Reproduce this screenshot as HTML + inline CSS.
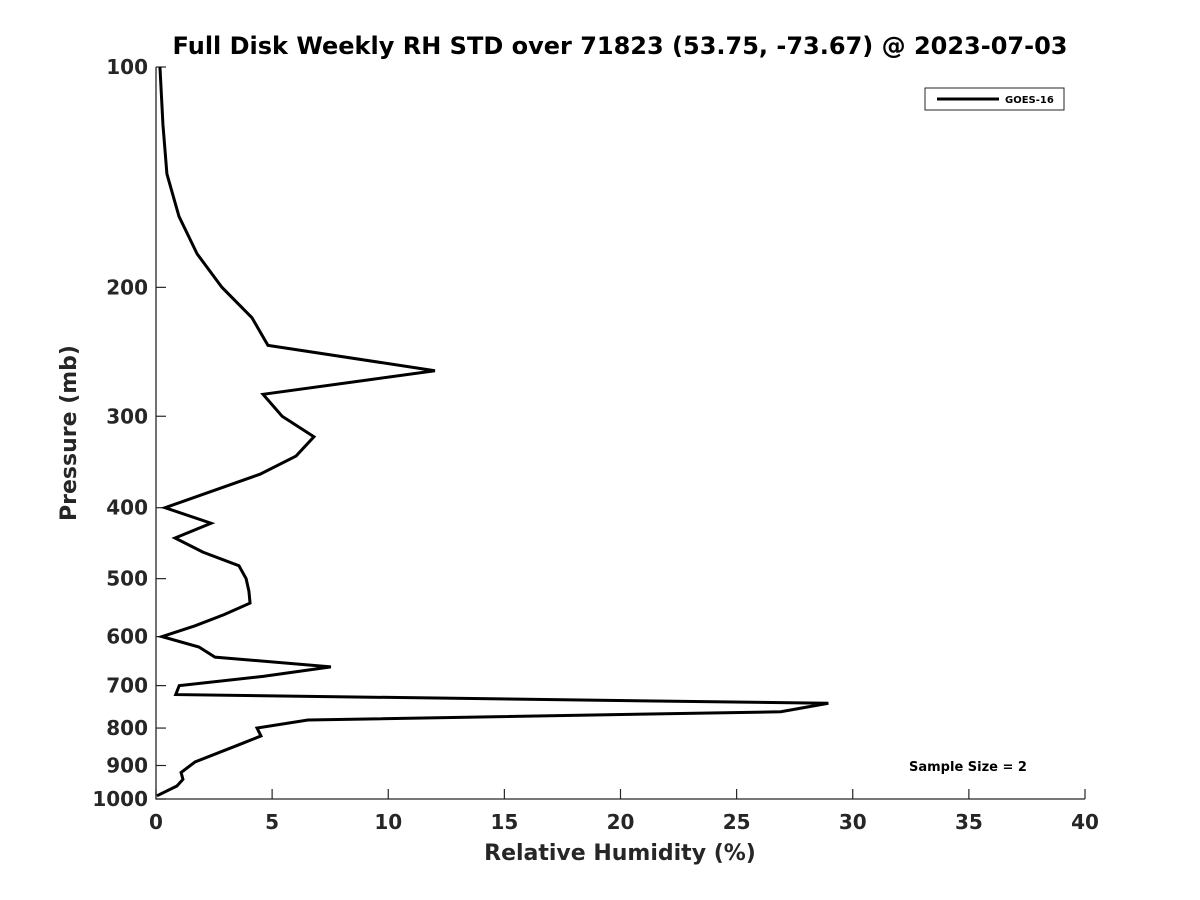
<!DOCTYPE html>
<html><head><meta charset="utf-8"><style>body{margin:0;background:#fff}svg{display:block;font-family:"DejaVu Sans","Liberation Sans",sans-serif}</style></head>
<body>
<svg id="c" width="1200" height="900"></svg>
<script>
const pressure=[100,120,140,160,180,200,220,240,260,280,300,320,340,360,400,420,440,460,480,500,520,540,560,580,600,620,640,660,680,700,720,740,760,780,800,820,840,890,920,940,960,990];
const rhStd=[0.17,0.30,0.47,0.99,1.77,2.84,4.13,4.82,12.01,4.61,5.43,6.80,6.03,4.48,0.39,2.37,0.82,2.02,3.57,3.88,4.00,4.05,2.93,1.68,0.26,1.85,2.54,7.53,4.61,1.00,0.85,28.95,26.9,6.54,4.35,4.52,3.70,1.68,1.08,1.16,0.90,0.04];
const xTicks=[0,5,10,15,20,25,30,35,40];
const yTicks=[100,200,300,400,500,600,700,800,900,1000];
const L=156,R=1085,T=67,B=799;
const xs=v=>L+(v-0)/(40-0)*(R-L);
const ys=p=>T+(Math.log10(p)-2)*(B-T);
const svg=document.getElementById('c');const NS='http://www.w3.org/2000/svg';
function mk(t,a,txt){const e=document.createElementNS(NS,t);for(const k in a)e.setAttribute(k,a[k]);if(txt!==undefined)e.textContent=txt;svg.appendChild(e);return e;}
let e;
e=mk('text',{x:620,y:54,'text-anchor':'middle','font-size':24,'font-weight':'bold',fill:'#000'},'Full Disk Weekly RH STD over 71823 (53.75, -73.67) @ 2023-07-03');

e=mk('path',{d:`M${L},${T}V${B}H${R}`,stroke:'#262626','stroke-width':1.3,fill:'none'});

xTicks.forEach(v=>{const x=xs(v);
e=mk('line',{x1:x,x2:x,y1:B,y2:B-10,stroke:'#262626','stroke-width':1.2});

e=mk('text',{x:x,y:B+30,'text-anchor':'middle','font-size':20,'font-weight':'bold',fill:'#262626'},String(v));
});
yTicks.forEach(v=>{const y=ys(v);
e=mk('line',{x1:L,x2:L+10,y1:y,y2:y,stroke:'#262626','stroke-width':1.2});

e=mk('text',{x:L-8,y:y+7,'text-anchor':'end','font-size':20,'font-weight':'bold',fill:'#262626'},String(v));
});
e=mk('text',{x:620,y:860,'text-anchor':'middle','font-size':22,'font-weight':'bold',fill:'#262626'},'Relative Humidity (%)');

e=mk('text',{x:0,y:0,transform:'translate(76,433) rotate(-90)','text-anchor':'middle','font-size':22,'font-weight':'bold',fill:'#262626'},'Pressure (mb)');

e=mk('polyline',{points:pressure.map((p,i)=>xs(rhStd[i])+','+ys(p)).join(' '),fill:'none',stroke:'#000','stroke-width':3,'stroke-linejoin':'miter'});

e=mk('rect',{x:925,y:88,width:139,height:22,fill:'#fff',stroke:'#262626','stroke-width':1});

e=mk('line',{x1:937,x2:999,y1:99,y2:99,stroke:'#000','stroke-width':3});

e=mk('text',{x:1005,y:103,'font-size':10,'font-weight':'bold',fill:'#000'},'GOES-16');

e=mk('text',{x:968,y:771,'text-anchor':'middle','font-size':13,'font-weight':'bold',fill:'#000'},'Sample Size = 2');

</script>
</body></html>
